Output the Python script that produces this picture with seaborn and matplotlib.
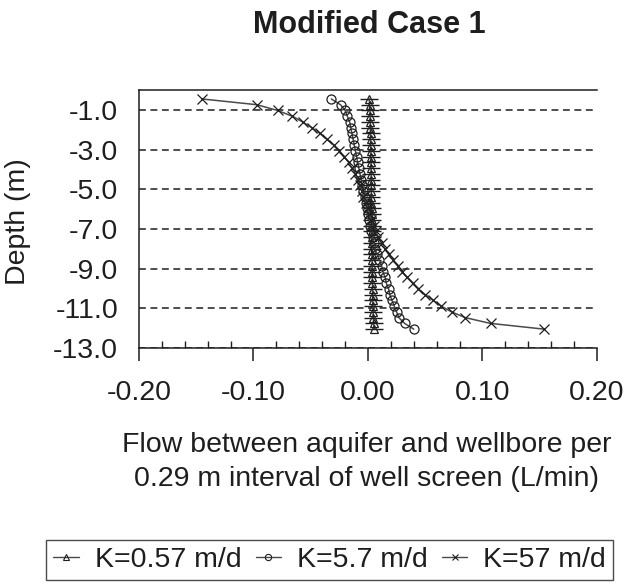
import matplotlib
matplotlib.use("Agg")
import matplotlib.pyplot as plt
from matplotlib.lines import Line2D
import numpy as np
import pandas as pd
import seaborn as sns

# Depth of each 0.29 m screen interval (m)
depth_m = [-0.45, -0.74, -1.03, -1.32, -1.61, -1.90, -2.19, -2.48, -2.77, -3.06,
           -3.35, -3.64, -3.93, -4.22, -4.51, -4.80, -5.09, -5.38, -5.67, -5.96,
           -6.25, -6.54, -6.83, -7.12, -7.41, -7.70, -7.99, -8.28, -8.57, -8.86,
           -9.15, -9.44, -9.73, -10.02, -10.31, -10.60, -10.89, -11.18, -11.47,
           -11.76, -12.05]

# Flow between aquifer and wellbore per interval (L/min)
flow_k0_57 = [0.0010, 0.0015, 0.0017, 0.0019, 0.0020, 0.0021, 0.0022, 0.0023,
              0.0024, 0.0025, 0.0026, 0.0026, 0.0027, 0.0028, 0.0028, 0.0029,
              0.0029, 0.0030, 0.0030, 0.0031, 0.0031, 0.0032, 0.0032, 0.0033,
              0.0033, 0.0034, 0.0034, 0.0035, 0.0036, 0.0036, 0.0037, 0.0038,
              0.0039, 0.0040, 0.0041, 0.0042, 0.0043, 0.0045, 0.0047, 0.0050,
              0.0056]
flow_k5_7 = [-0.032, -0.024, -0.020, -0.018, -0.016, -0.015, -0.014, -0.013,
             -0.012, -0.011, -0.010, -0.009, -0.008, -0.007, -0.006, -0.005,
             -0.004, -0.003, -0.002, -0.001, 0.000, 0.001, 0.002, 0.003, 0.004,
             0.005, 0.006, 0.008, 0.010, 0.012, 0.013, 0.015, 0.016, 0.018,
             0.019, 0.021, 0.023, 0.025, 0.027, 0.032, 0.040]
flow_k57 = [-0.145, -0.097, -0.079, -0.066, -0.057, -0.049, -0.042, -0.036,
            -0.030, -0.025, -0.021, -0.017, -0.014, -0.011, -0.009, -0.007,
            -0.005, -0.004, -0.002, 0.000, 0.001, 0.003, 0.005, 0.007, 0.009,
            0.012, 0.015, 0.018, 0.022, 0.026, 0.030, 0.034, 0.039, 0.044,
            0.050, 0.057, 0.064, 0.073, 0.085, 0.107, 0.154]

series_labels = ["K=0.57 m/d", "K=5.7 m/d", "K=57 m/d"]
series_flows = [flow_k0_57, flow_k5_7, flow_k57]

x_ticks = [-0.20, -0.10, 0.00, 0.10, 0.20]
x_tick_labels = ["-0.20", "-0.10", "0.00", "0.10", "0.20"]
y_ticks = [-1.0, -3.0, -5.0, -7.0, -9.0, -11.0, -13.0]
y_tick_labels = ["-1.0", "-3.0", "-5.0", "-7.0", "-9.0", "-11.0", "-13.0"]

title = "Modified Case 1"
x_label = "Flow between aquifer and wellbore per\n0.29 m interval of well screen (L/min)"
y_label = "Depth (m)"

frame = pd.concat(
    [pd.DataFrame({"series": lab, "flow": fl, "depth": depth_m})
     for lab, fl in zip(series_labels, series_flows)],
    ignore_index=True,
)

sns.set_theme(style="white")
plt.rcParams["font.family"] = ["Liberation Sans", "DejaVu Sans"]
plt.rcParams["axes.unicode_minus"] = False

ink = "#1e1e1e"
line_col = "#4a4a4a"
fs = 20.5
styles = {
    "K=0.57 m/d": dict(marker="^", markersize=5.5),
    "K=5.7 m/d": dict(marker="o", markersize=6.5),
    "K=57 m/d": dict(marker="x", markersize=6.5),
}

fig = plt.figure(figsize=(6.3, 5.85), dpi=100)
ax = fig.add_axes([0.2206, 0.4051, 0.727, 0.441])

for lab in series_labels:
    sub = frame[frame["series"] == lab]
    sns.lineplot(data=sub, x="flow", y="depth", sort=False, estimator=None,
                 ax=ax, color=line_col, linewidth=1.1,
                 markerfacecolor="none", markeredgecolor=ink,
                 markeredgewidth=0.9, legend=False, **styles[lab])
    if lab == "K=0.57 m/d":
        # horizontal strokes along the low-conductivity profile
        sns.lineplot(data=sub, x="flow", y="depth", sort=False, estimator=None,
                     ax=ax, color=ink, linestyle="", marker="_",
                     markersize=12.5, markeredgecolor=ink, markeredgewidth=1.0,
                     legend=False)

ax.set_xlim(-0.20, 0.20)
ax.set_ylim(-13.0, 0.0)
ax.set_xticks(x_ticks, x_tick_labels)
ax.set_xticks(np.arange(-0.20, 0.2001, 0.02), minor=True)
ax.set_yticks(y_ticks, y_tick_labels)

ax.yaxis.grid(True, color=ink, linestyle=(0, (4.5, 3)), linewidth=1.1)
ax.xaxis.grid(False)

for side in ["left", "bottom", "top"]:
    ax.spines[side].set_visible(True)
    ax.spines[side].set_color(ink)
    ax.spines[side].set_linewidth(1.1)
ax.spines["right"].set_visible(False)

ax.tick_params(axis="x", which="major", direction="out", length=9, width=1.1,
               color=ink, pad=14, labelsize=fs, labelcolor=ink, bottom=True)
ax.tick_params(axis="x", which="minor", direction="in", length=5, width=1.0,
               color=ink, bottom=True)
ax.tick_params(axis="y", length=0, pad=15, labelsize=fs, labelcolor=ink)

ax.set_xlabel(x_label, fontsize=fs, color=ink, linespacing=1.42)
ax.xaxis.set_label_coords(0.497, -0.325)
ax.set_ylabel(y_label, fontsize=fs, color=ink)
ax.yaxis.set_label_coords(-0.236, 0.49)

fig.text(0.587, 0.957, title, fontsize=22, fontweight="bold", color=ink,
         ha="center", va="center")

handles = [
    Line2D([], [], color=line_col, linewidth=1.0, marker=styles[lab]["marker"],
           markersize=4.5, markerfacecolor="none", markeredgecolor=ink,
           markeredgewidth=0.8)
    for lab in series_labels
]
leg = fig.legend(handles, series_labels, loc="center right",
                 bbox_to_anchor=(613 / 630, 1 - 560 / 585), ncol=3,
                 frameon=True, fancybox=False, fontsize=fs, handlelength=0.9,
                 handletextpad=0.55, columnspacing=0.5, borderpad=0.25,
                 borderaxespad=0)
leg.get_frame().set_edgecolor(ink)
leg.get_frame().set_linewidth(1.0)
for t in leg.get_texts():
    t.set_color(ink)

fig.savefig("out.png", dpi=100)
